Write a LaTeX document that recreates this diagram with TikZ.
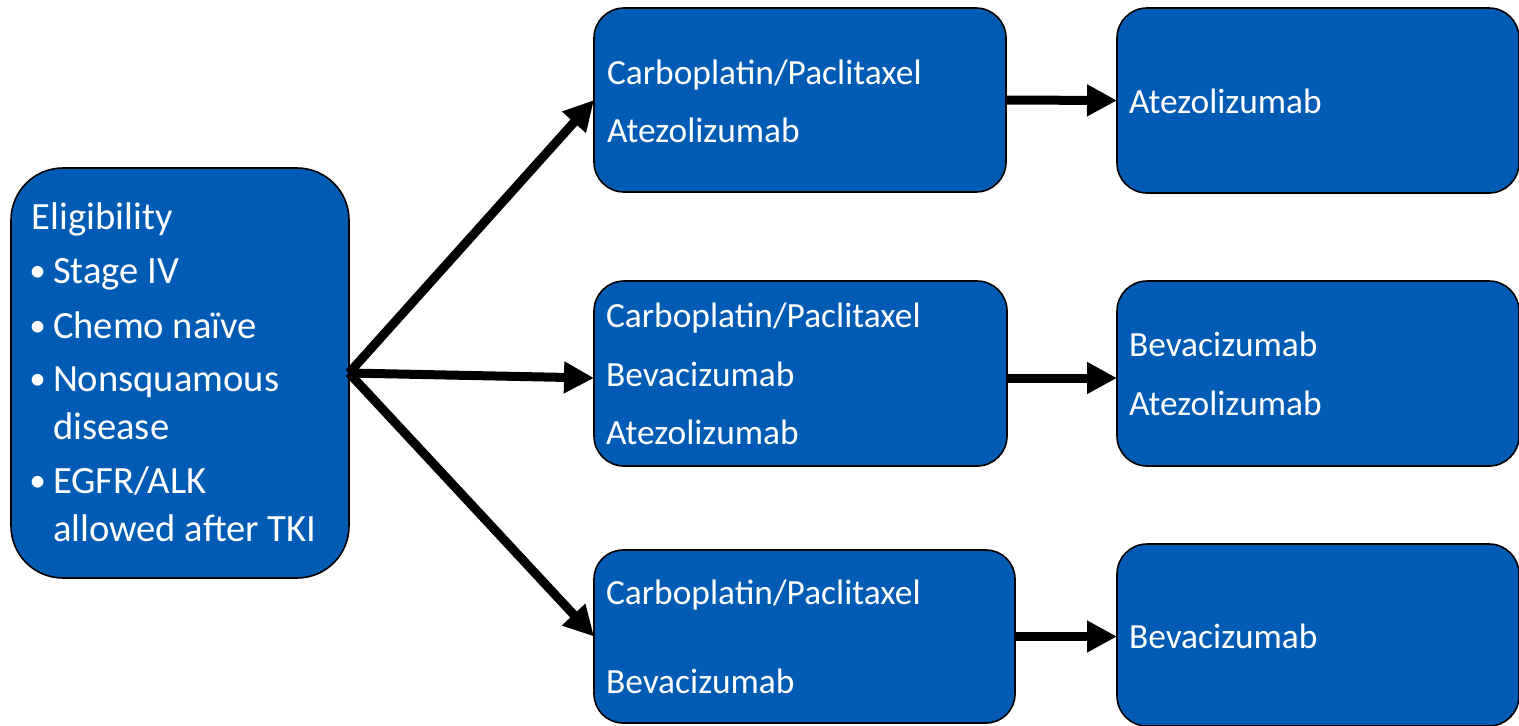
\documentclass[tikz,border=0pt]{standalone}
\usepackage{fontspec}
\setmainfont{Carlito}
\newfontfamily\bulletfont{Liberation Sans}
\usetikzlibrary{arrows.meta}
\definecolor{boxblue}{RGB}{0,91,181}
\begin{document}
\begin{tikzpicture}[x=0.5pt,y=-0.5pt,
  box/.style={draw=black, line width=0.8pt, fill=boxblue, rounded corners=15pt, inner sep=0pt, outer sep=0pt},
  txt/.style={anchor=base west, inner sep=0pt, outer sep=0pt, text=white, font=\fontsize{17.7}{21}\selectfont},
  ltxt/.style={txt, font=\fontsize{19.3}{23}\selectfont},
  bul/.style={txt, font=\bulletfont\fontsize{21.5}{23}\selectfont},
  conn/.style={line width=4.5pt, -{Triangle[length=15pt,width=15pt]}}]
\useasboundingbox (0,0) rectangle (1519,725);
% boxes
\node[box, minimum width=169pt, minimum height=205pt, rounded corners=26pt] (elig) at (180,373) {};
\node[box, minimum width=206pt, minimum height=92pt] (m1) at (800,100) {};
\node[box, minimum width=206.5pt, minimum height=92.5pt] (m2) at (800.5,373.5) {};
\node[box, minimum width=210.5pt, minimum height=86.5pt, rounded corners=14.5pt] (m3) at (804.5,636.5) {};
\node[box, minimum width=201pt, minimum height=92.5pt] (r1) at (1318,100.5) {};
\node[box, minimum width=201pt, minimum height=92.5pt] (r2) at (1318,373.5) {};
\node[box, minimum width=201pt, minimum height=91pt] (r3) at (1318,635) {};
% left texts
\node[ltxt] (e0) at (32,229) {Eligibility};
\node[bul] (b1) at (31,286) {•};
\node[ltxt] (e1) at (53,283) {Stage IV};
\node[bul] (b2) at (31,341) {•};
\node[ltxt] (e2) at (53,338) {Chemo naïve};
\node[bul] (b3) at (31,394) {•};
\node[ltxt] (e3) at (53,391) {Nonsquamous};
\node[ltxt] (e3b) at (53,439) {disease};
\node[bul] (b4) at (31,496) {•};
\node[ltxt] (e4) at (53,493) {EGFR/ALK};
\node[ltxt] (e4b) at (53,541) {allowed after TKI};
% middle texts
\node[txt] (m1a) at (607,84) {Carboplatin/Paclitaxel};
\node[txt] (m1b) at (607,142) {Atezolizumab};
\node[txt] (m2a) at (606,327) {Carboplatin/Paclitaxel};
\node[txt] (m2b) at (606,386) {Bevacizumab};
\node[txt] (m2c) at (606,444) {Atezolizumab};
\node[txt] (m3a) at (606,604) {Carboplatin/Paclitaxel};
\node[txt] (m3b) at (606,693) {Bevacizumab};
% right texts
\node[txt] (r1a) at (1129,113) {Atezolizumab};
\node[txt] (r2a) at (1129,356) {Bevacizumab};
\node[txt] (r2b) at (1129,415) {Atezolizumab};
\node[txt] (r3a) at (1129,648) {Bevacizumab};
% connectors
\draw[conn] (elig.east) -- (m1.west);
\draw[conn] (elig.east) -- ([yshift=-2.25pt]m2.west);
\draw[conn] (elig.east) -- (m3.west);
\draw[conn] (m1.east) -- (r1.west);
\draw[conn] ([yshift=-2.25pt]m2.east) -- ([yshift=-2.25pt]r2.west);
\draw[conn] (m3.east) -- (m3.east -| r3.west);
\end{tikzpicture}
\end{document}
